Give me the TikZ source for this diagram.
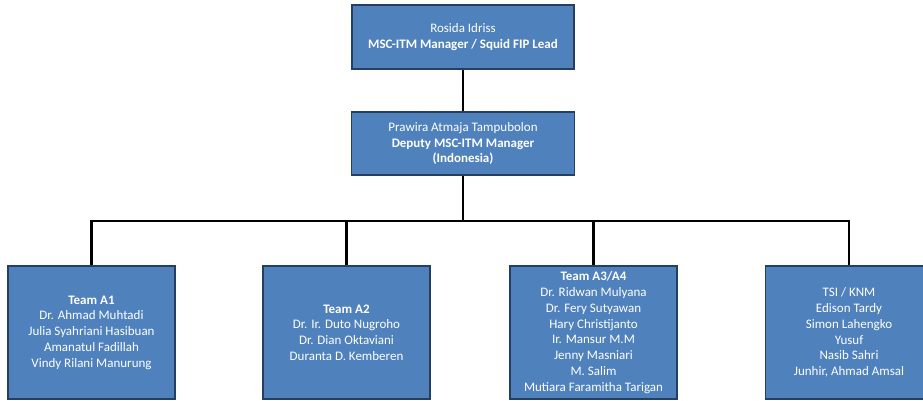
\documentclass[tikz,border=0pt]{standalone}
\usepackage{fontspec}
\setmainfont{Carlito}
\usepackage{tikz}
\definecolor{boxfill}{HTML}{4F81BD}
\definecolor{boxline}{HTML}{243F60}

\begin{document}
\begin{tikzpicture}[x=1pt,y=-1pt,
    orgbox/.style={draw=boxline, line width=1.6pt, fill=boxfill, text=white,
      align=center, inner sep=2pt, font=\fontsize{13}{15.8}\selectfont},
    teambox/.style={orgbox, minimum width=167pt, minimum height=133pt},
    link/.style={line width=2.6pt, black}]
  % Bingkai
  \clip (0,0) rectangle (923,401);
  \fill[white] (0,0) rectangle (923,401);

  % Pimpinan
  \node[orgbox, minimum width=222pt, minimum height=64pt] (lead) at (463,37)
    {Rosida Idriss\\ \textbf{MSC-ITM Manager / Squid FIP Lead}};
  \node[orgbox, minimum width=223pt, minimum height=63pt] (deputy) at (463,143.5)
    {Prawira Atmaja Tampubolon\\ \textbf{Deputy MSC-ITM Manager}\\ \textbf{(Indonesia)}};

  % Tim
  \node[teambox] (teamA1) at (91.5,332.5)
    {\textbf{Team A1}\\ Dr. Ahmad Muhtadi\\ Julia Syahriani Hasibuan\\
     Amanatul Fadillah\\ Vindy Rilani Manurung};
  \node[teambox] (teamA2) at (346.5,332.5)
    {\textbf{Team A2}\\ Dr. Ir. Duto Nugroho\\ Dr. Dian Oktaviani\\ Duranta D. Kemberen};
  \node[teambox] (teamA3) at (593.5,332.5)
    {\textbf{Team A3/A4}\\ Dr. Ridwan Mulyana\\ Dr. Fery Sutyawan\\ Hary Christijanto\\
     Ir. Mansur M.M\\ Jenny Masniari\\ M. Salim\\ Mutiara Faramitha Tarigan};
  \node[teambox] (teamTSI) at (849,332.5)
    {TSI / KNM\\ Edison Tardy\\ Simon Lahengko\\ Yusuf\\ Nasib Sahri\\ Junhir, Ahmad Amsal};

  % Garis penghubung
  \coordinate (bus) at (463,221);
  \draw[link] (lead) -- (deputy);
  \draw[link] (deputy) -- (bus);
  \foreach \t in {teamA1,teamA2,teamA3,teamTSI}
    \draw[link] (\t.north) |- (bus);
\end{tikzpicture}
\end{document}
